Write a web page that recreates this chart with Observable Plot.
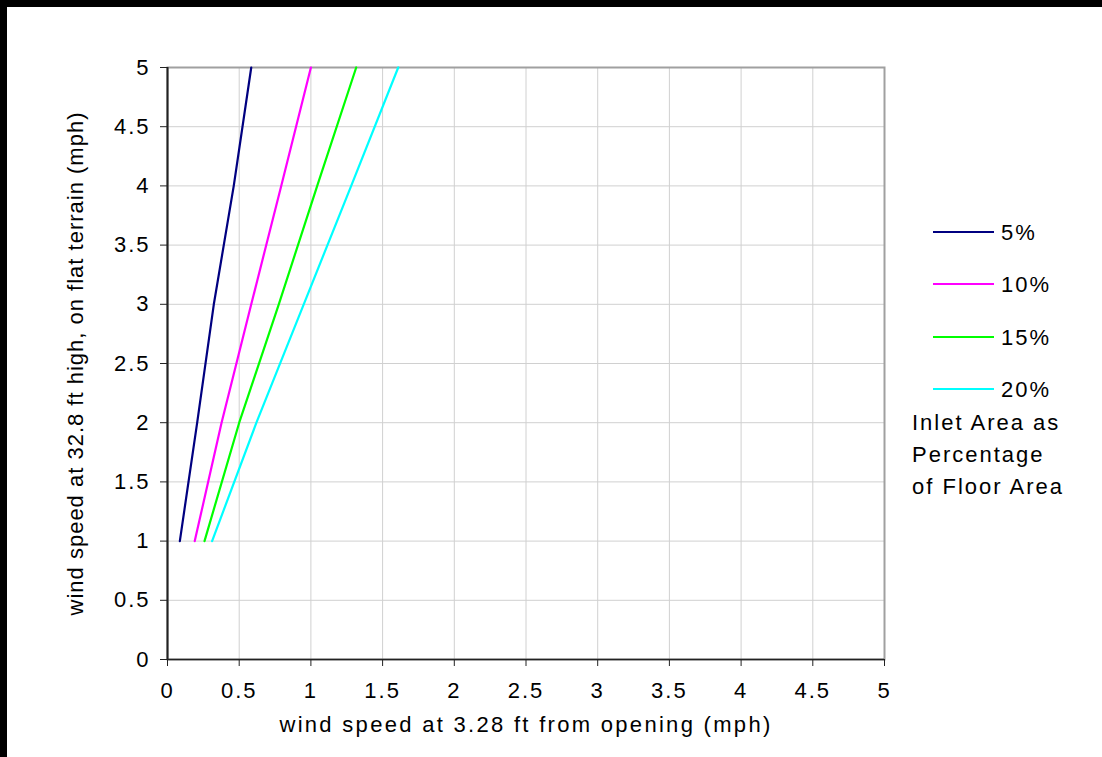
<!DOCTYPE html>
<html><head><meta charset="utf-8">
<script src="https://cdn.jsdelivr.net/npm/d3@7"></script>
<script src="https://cdn.jsdelivr.net/npm/@observablehq/plot@0.6"></script>
<style>
html,body{margin:0;padding:0;background:#fff;}
#wrap{position:relative;width:1102px;height:757px;overflow:hidden;font-family:"Liberation Sans",Arial,sans-serif;background:#fff;}
#wrap svg{display:block}
#wrap svg text{letter-spacing:2px}
#wrap svg text.ytitle{letter-spacing:1px}
#wrap svg text.xtitle{letter-spacing:2.3px}
.bar-top{position:absolute;left:0;top:0;width:1102px;height:7px;background:#000}
.bar-left{position:absolute;left:0;top:0;width:7px;height:757px;background:#000}
#legend{position:absolute;left:0;top:0;pointer-events:none}
</style></head><body><div id="wrap"></div>
<script>
// ---- data ----
const yLevels = [1, 2, 3, 4, 5];
const seriesNames = ["5%", "10%", "15%", "20%"];
const seriesColors = ["#000080", "#ff00ff", "#00ff00", "#00ffff"];
const x5 = [0.086, 0.207, 0.323, 0.462, 0.584];
const x10 = [0.19, 0.377, 0.584, 0.793, 1.0];
const x15 = [0.258, 0.50, 0.776, 1.044, 1.316];
const x20 = [0.311, 0.62, 0.95, 1.281, 1.609];
const tickValues = [0, 0.5, 1, 1.5, 2, 2.5, 3, 3.5, 4, 4.5, 5];
const xTitle = "wind speed at 3.28 ft from opening (mph)";
const yTitle = "wind speed at 32.8 ft high, on flat terrain (mph)";
const legendTitle = ["Inlet Area as", "Percentage", "of Floor Area"];

const seriesX = [x5, x10, x15, x20];
const rows = [];
seriesNames.forEach((name, i) => {
  yLevels.forEach((yv, j) => rows.push({series: name, x: seriesX[i][j], y: yv}));
});

const W = 1102, H = 757;
const mL = 167, mR = 218, mT = 67, mB = 98;

const chart = Plot.plot({
  width: W, height: H,
  marginLeft: mL, marginRight: mR, marginTop: mT, marginBottom: mB,
  style: {fontFamily: '"Liberation Sans", Arial, sans-serif', fontSize: "22px", color: "#000", background: "#fff", overflow: "visible"},
  x: {domain: [0, 5]},
  y: {domain: [0, 5]},
  color: {domain: seriesNames, range: seriesColors},
  marks: [
    Plot.gridX(tickValues, {stroke: "#d0d0d0", strokeOpacity: 1, strokeWidth: 1}),
    Plot.gridY(tickValues, {stroke: "#d0d0d0", strokeOpacity: 1, strokeWidth: 1}),
    Plot.frame({stroke: "#a0a0a0", strokeWidth: 2}),
    Plot.ruleX([0], {stroke: "#222", strokeWidth: 2}),
    Plot.ruleY([0], {stroke: "#222", strokeWidth: 1.5}),
    Plot.axisX({ticks: tickValues, tickSize: 7, tickPadding: 16, tickFormat: d => String(d), label: null, fontSize: 22, stroke: "#222"}),
    Plot.axisY({ticks: tickValues, tickSize: 7, tickPadding: 10, tickFormat: d => String(d), label: null, fontSize: 22, stroke: "#222"}),
    Plot.line(rows, {x: "x", y: "y", z: "series", stroke: "series", strokeWidth: 2.2}),
    Plot.text([xTitle], {frameAnchor: "bottom", dy: 65, text: d => d, fontSize: 22, textAnchor: "middle", lineAnchor: "middle", fill: "#000", className: "xtitle"}),
    Plot.text([yTitle], {frameAnchor: "left", dx: -92, rotate: -90, text: d => d, fontSize: 22, textAnchor: "middle", lineAnchor: "middle", fill: "#000", className: "ytitle"})
  ]
});

const wrap = document.getElementById("wrap");
wrap.appendChild(chart);
// tag title texts for letter-spacing
chart.querySelectorAll("g.xtitle text").forEach(t => t.classList.add("xtitle"));
chart.querySelectorAll("g.ytitle text").forEach(t => t.classList.add("ytitle"));

// legend overlay
const leg = d3.select(wrap).append("svg").attr("id", "legend").attr("width", W).attr("height", H)
  .style("font-family", '"Liberation Sans", Arial, sans-serif');
const legY = [232, 284, 337, 389];
seriesNames.forEach((name, i) => {
  leg.append("line").attr("x1", 933).attr("x2", 994).attr("y1", legY[i]).attr("y2", legY[i])
    .attr("stroke", seriesColors[i]).attr("stroke-width", 2);
  leg.append("text").attr("x", 1001).attr("y", legY[i]).attr("dy", "0.35em")
    .attr("font-size", 22).attr("fill", "#000").text(name);
});
const titleY = [422, 454, 486];
legendTitle.forEach((t, i) => {
  leg.append("text").attr("x", 912).attr("y", titleY[i]).attr("dy", "0.35em")
    .attr("font-size", 22).attr("fill", "#000").text(t);
});

const b1 = document.createElement("div"); b1.className = "bar-top"; wrap.appendChild(b1);
const b2 = document.createElement("div"); b2.className = "bar-left"; wrap.appendChild(b2);
</script>
</body></html>
